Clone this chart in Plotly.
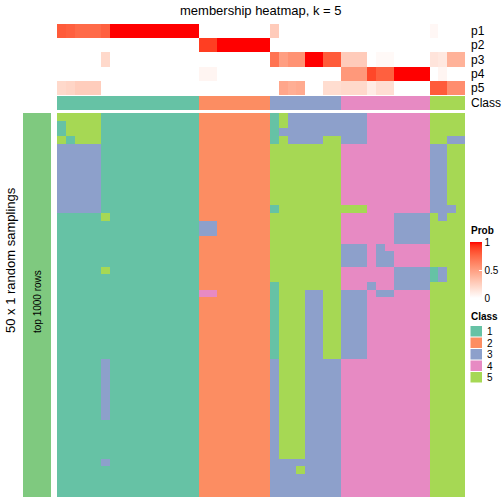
import plotly.graph_objects as go

W = H = 504

# ---------------- data ----------------
col_class = [1]*16 + [2]*8 + [3]*8 + [4]*10 + [5]*4

p1 = [0.80, 0.78, 0.74, 0.74, 0.74, 0.78] + [1.0]*10 + [0.0]*8 + [0.27] + [0.0]*17 + [0.04, 0, 0, 0]
p2 = [0.0]*16 + [0.90, 0.90] + [1.0]*6 + [0.0]*22
p3 = ([0, 0, 0, 0, 0, 0.20] + [0]*10 + [0]*8 +
      [0.70, 0.50, 0.56, 0.56, 1.0, 1.0, 0.80, 0.80] +
      [0.27, 0.27, 0.27, 0.0, 0.03, 0.03, 0, 0, 0, 0] +
      [0.14, 0.12, 0.40, 0.40])
p4 = ([0]*16 + [0.05, 0.05] + [0]*6 + [0]*8 +
      [0.53, 0.53, 0.53, 0.87, 0.78, 0.78, 1.0, 1.0, 1.0, 1.0] +
      [0, 0.05, 0, 0])
p5 = ([0.20, 0.22, 0.26, 0.26, 0.26, 0] + [0]*10 + [0]*8 +
      [0, 0.46, 0.42, 0.44, 0, 0, 0.18, 0.18] +
      [0.20, 0.20, 0.20, 0.10, 0.17, 0.17, 0, 0, 0, 0] +
      [0.80, 0.80, 0.58, 0.58])
prob_names = ["p1", "p2", "p3", "p4", "p5"]

# 50 sampling rows x 46 samples (class assignment per sampling)
rows_txt = [
    "55555 1 1111111111 22 222222 1 5 33 33 33 333 4 4 4 4444 5 5 5 5",
    "15555 1 1111111111 22 222222 1 5 33 33 33 333 4 4 4 4444 5 5 5 5",
    "15555 1 1111111111 22 222222 1 3 33 33 33 333 4 4 4 4444 5 5 5 5",
    "51555 1 1111111111 22 222222 1 5 33 33 55 333 4 4 4 4444 5 5 3 3",
    "33333 1 1111111111 22 222222 5 5 55 55 55 444 4 4 4 4444 3 3 5 5",
    "33333 1 1111111111 22 222222 5 5 55 55 55 444 4 4 4 4444 3 3 5 5",
    "33333 1 1111111111 22 222222 5 5 55 55 55 444 4 4 4 4444 3 3 5 5",
    "33333 1 1111111111 22 222222 5 5 55 55 55 444 4 4 4 4444 3 3 5 5",
    "33333 1 1111111111 22 222222 5 5 55 55 55 444 4 4 4 4444 3 3 5 5",
    "33333 1 1111111111 22 222222 5 5 55 55 55 444 4 4 4 4444 3 3 5 5",
    "33333 1 1111111111 22 222222 5 5 55 55 55 444 4 4 4 4444 3 3 5 5",
    "33333 1 1111111111 22 222222 5 5 55 55 55 444 4 4 4 4444 3 3 5 5",
    "33333 1 1111111111 22 222222 1 5 55 55 55 555 4 4 4 4444 3 3 3 5",
    "11111 5 1111111111 22 222222 5 5 55 55 55 444 4 4 4 3333 5 3 5 5",
    "11111 1 1111111111 33 222222 5 5 55 55 55 444 4 4 4 3333 5 5 5 5",
    "11111 1 1111111111 33 222222 5 5 55 55 55 444 4 4 4 3333 5 5 5 5",
    "11111 1 1111111111 22 222222 5 5 55 55 55 444 4 4 4 3333 5 5 5 5",
    "11111 1 1111111111 22 222222 5 5 55 55 55 333 4 3 4 4444 5 5 5 5",
    "11111 1 1111111111 22 222222 5 5 55 55 55 333 4 3 3 4444 5 5 5 5",
    "11111 1 1111111111 22 222222 5 5 55 55 55 333 4 3 3 4444 5 5 5 5",
    "11111 5 1111111111 22 222222 5 5 55 55 55 444 4 4 4 3333 1 3 5 5",
    "11111 1 1111111111 22 222222 5 5 55 55 55 444 4 4 4 3333 1 3 5 5",
    "11111 1 1111111111 22 222222 1 5 55 55 55 444 3 4 4 3333 5 5 5 5",
    "11111 1 1111111111 44 222222 1 5 55 33 55 333 4 3 3 4444 5 5 5 5",
    "11111 1 1111111111 22 222222 1 5 55 33 55 333 4 4 4 4444 5 5 5 5",
    "11111 1 1111111111 22 222222 1 5 55 33 55 333 4 4 4 4444 5 5 5 5",
    "11111 1 1111111111 22 222222 1 5 55 33 55 333 4 4 4 4444 5 5 5 5",
    "11111 1 1111111111 22 222222 1 5 55 33 55 333 4 4 4 4444 5 5 5 5",
    "11111 1 1111111111 22 222222 1 5 55 33 55 333 4 4 4 4444 5 5 5 5",
    "11111 1 1111111111 22 222222 1 5 55 33 55 333 4 4 4 4444 5 5 5 5",
    "11111 1 1111111111 22 222222 1 5 55 33 55 333 4 4 4 4444 5 5 5 5",
    "11111 1 1111111111 22 222222 1 5 55 33 55 333 4 4 4 4444 5 5 5 5",
    "11111 3 1111111111 22 222222 3 5 55 33 33 444 4 4 4 4444 5 5 5 5",
    "11111 3 1111111111 22 222222 3 5 55 33 33 444 4 4 4 4444 5 5 5 5",
    "11111 3 1111111111 22 222222 3 5 55 33 33 444 4 4 4 4444 5 5 5 5",
    "11111 3 1111111111 22 222222 3 5 55 33 33 444 4 4 4 4444 5 5 5 5",
    "11111 3 1111111111 22 222222 3 5 55 33 33 444 4 4 4 4444 5 5 5 5",
    "11111 3 1111111111 22 222222 3 5 55 33 33 444 4 4 4 4444 5 5 5 5",
    "11111 3 1111111111 22 222222 3 5 55 33 33 444 4 4 4 4444 5 5 5 5",
    "11111 3 1111111111 22 222222 3 5 55 33 33 444 4 4 4 4444 5 5 5 5",
    "11111 1 1111111111 22 222222 3 5 55 33 33 444 4 4 4 4444 5 5 5 5",
    "11111 1 1111111111 22 222222 3 5 55 33 33 444 4 4 4 4444 5 5 5 5",
    "11111 1 1111111111 22 222222 3 5 55 33 33 444 4 4 4 4444 5 5 5 5",
    "11111 1 1111111111 22 222222 3 5 55 33 33 444 4 4 4 4444 5 5 5 5",
    "11111 1 1111111111 22 222222 3 5 55 33 33 444 4 4 4 4444 5 5 5 5",
    "11111 3 1111111111 22 222222 3 3 33 33 33 444 4 4 4 4444 5 5 5 5",
    "11111 1 1111111111 22 222222 3 3 35 33 33 444 4 4 4 4444 5 5 5 5",
    "11111 1 1111111111 22 222222 3 3 33 33 33 444 4 4 4 4444 5 5 5 5",
    "11111 1 1111111111 22 222222 3 3 33 33 33 444 4 4 4 4444 5 5 5 5",
    "11111 1 1111111111 22 222222 3 3 33 33 33 444 4 4 4 4444 5 5 5 5",
]
class_labels = ["1", "2", "3", "4", "5"]
class_colors = ["#66C2A5", "#FC8D62", "#8DA0CB", "#E78AC3", "#A6D854"]

membership = [[int(ch) for ch in r.replace(" ", "")] for r in rows_txt]
ncol = len(col_class)
cols = list(range(ncol))

# --------------- colour scales ---------------
def srgb_to_lin(c):
    c = c / 255.0
    return c / 12.92 if c <= 0.04045 else ((c + 0.055) / 1.055) ** 2.4

def lin_to_srgb(c):
    c = max(0.0, min(1.0, c))
    v = 12.92 * c if c <= 0.0031308 else 1.055 * c ** (1 / 2.4) - 0.055
    return int(round(max(0, min(1, v)) * 255))

def rgb_to_lab(rgb):
    r, g, b = [srgb_to_lin(c) for c in rgb]
    X = (0.4124 * r + 0.3576 * g + 0.1805 * b) / 0.95047
    Y = (0.2126 * r + 0.7152 * g + 0.0722 * b)
    Z = (0.0193 * r + 0.1192 * g + 0.9505 * b) / 1.08883
    f = lambda t: t ** (1 / 3) if t > 0.008856 else 7.787 * t + 16 / 116
    fx, fy, fz = f(X), f(Y), f(Z)
    return (116 * fy - 16, 500 * (fx - fy), 200 * (fy - fz))

def lab_to_rgb(lab):
    L, a, b = lab
    fy = (L + 16) / 116
    fx = fy + a / 500
    fz = fy - b / 200
    finv = lambda t: t ** 3 if t ** 3 > 0.008856 else (t - 16 / 116) / 7.787
    X, Y, Z = finv(fx) * 0.95047, finv(fy), finv(fz) * 1.08883
    r = 3.2406 * X - 1.5372 * Y - 0.4986 * Z
    g = -0.9689 * X + 1.8758 * Y + 0.0415 * Z
    bb = 0.0557 * X - 0.2040 * Y + 1.0570 * Z
    return "rgb(%d,%d,%d)" % (lin_to_srgb(r), lin_to_srgb(g), lin_to_srgb(bb))

lab_w = rgb_to_lab((255, 255, 255))
lab_r = rgb_to_lab((255, 0, 0))
prob_scale = []
for i in range(21):
    t = i / 20
    lab = tuple(lab_w[k] + (lab_r[k] - lab_w[k]) * t for k in range(3))
    prob_scale.append([t, lab_to_rgb(lab)])

disc_scale = []
for i, c in enumerate(class_colors):
    disc_scale.append([i / 5, c])
    disc_scale.append([(i + 1) / 5, c])

# --------------- layout helpers ---------------
def px(x):
    return x / W

def py(y):
    return 1 - y / H

X0, X1 = 57, 465
FONT = "Liberation Sans, Arial, sans-serif"

fig = go.Figure()

# main heatmap
fig.add_trace(go.Heatmap(
    z=membership, x=cols, y=list(range(len(membership))),
    colorscale=disc_scale, zmin=0.5, zmax=5.5, showscale=False,
    xaxis="x", yaxis="y", hoverinfo="skip"))

# probability annotation
fig.add_trace(go.Heatmap(
    z=[p1, p2, p3, p4, p5], x=cols, y=prob_names,
    colorscale=prob_scale, zmin=0, zmax=1,
    xaxis="x2", yaxis="y2", hoverinfo="skip",
    colorbar=dict(
        x=px(470), xanchor="left", y=py(270), yanchor="middle",
        len=56, lenmode="pixels", thickness=12, thicknessmode="pixels",
        outlinewidth=0, xpad=0, ypad=0,
        tickvals=[0, 0.5, 1], ticktext=["0", "0.5", "1"],
        ticks="inside", ticklen=3, tickcolor="white",
        tickfont=dict(size=10, family=FONT, color="black"))))

# class annotation
fig.add_trace(go.Heatmap(
    z=[col_class], x=cols, y=["Class"],
    colorscale=disc_scale, zmin=0.5, zmax=5.5, showscale=False,
    xaxis="x3", yaxis="y3", hoverinfo="skip"))

ax = dict(showgrid=False, zeroline=False, showticklabels=False, ticks="",
          showline=False, fixedrange=True)
fig.update_layout(
    width=W, height=H,
    margin=dict(l=0, r=0, t=0, b=0),
    paper_bgcolor="white", plot_bgcolor="white",
    font=dict(family=FONT, color="black"),
    xaxis=dict(domain=[px(X0), px(X1)], anchor="y", **ax),
    yaxis=dict(domain=[py(497), py(113)], anchor="x", autorange="reversed", **ax),
    xaxis2=dict(domain=[px(X0), px(X1)], anchor="y2", **ax),
    yaxis2=dict(domain=[py(95), py(24)], anchor="x2", autorange="reversed", **ax),
    xaxis3=dict(domain=[px(X0), px(X1)], anchor="y3", **ax),
    yaxis3=dict(domain=[py(110), py(96)], anchor="x3", **ax),
    showlegend=False,
)

shapes = []
annotations = []

def text(t, x, y, size, xanchor="center", angle=0):
    annotations.append(dict(text=t, x=px(x), y=py(y), xref="paper", yref="paper",
                            xanchor=xanchor, yanchor="middle", showarrow=False,
                            textangle=angle, font=dict(size=size)))

# left row-annotation bar
shapes.append(dict(type="rect", xref="paper", yref="paper",
                   x0=px(23), x1=px(51), y0=py(497), y1=py(113),
                   fillcolor="#7FC97F", line=dict(width=0)))
text("top 1000 rows", 37, 302, 10, angle=-90)
text("50 x 1 random samplings", 10, 260, 13, angle=-90)

# title
text("membership heatmap, k = 5", 261, 10, 13)

# annotation row names
for i, name in enumerate(prob_names):
    text(name, 469, 24 + 14.2 * (i + 0.5), 12, xanchor="left")
text("Class", 469, 103, 12, xanchor="left")

# Prob legend title
text("<b>Prob</b>", 469, 231, 10, xanchor="left")

# Class legend
text("<b>Class</b>", 469, 316, 10, xanchor="left")
for k, (lab, col) in enumerate(zip(class_labels, class_colors)):
    top = 326 + 11.5 * k
    shapes.append(dict(type="rect", xref="paper", yref="paper",
                       x0=px(470.5), x1=px(482), y0=py(top + 10.5), y1=py(top),
                       fillcolor=col, line=dict(width=0)))
    text(lab, 485, top + 5.5, 10, xanchor="left")

fig.update_layout(shapes=shapes, annotations=annotations)
fig.write_html("out.html", config={"displayModeBar": False},
               post_script="document.body.style.margin='0';document.body.style.overflow='hidden';")
